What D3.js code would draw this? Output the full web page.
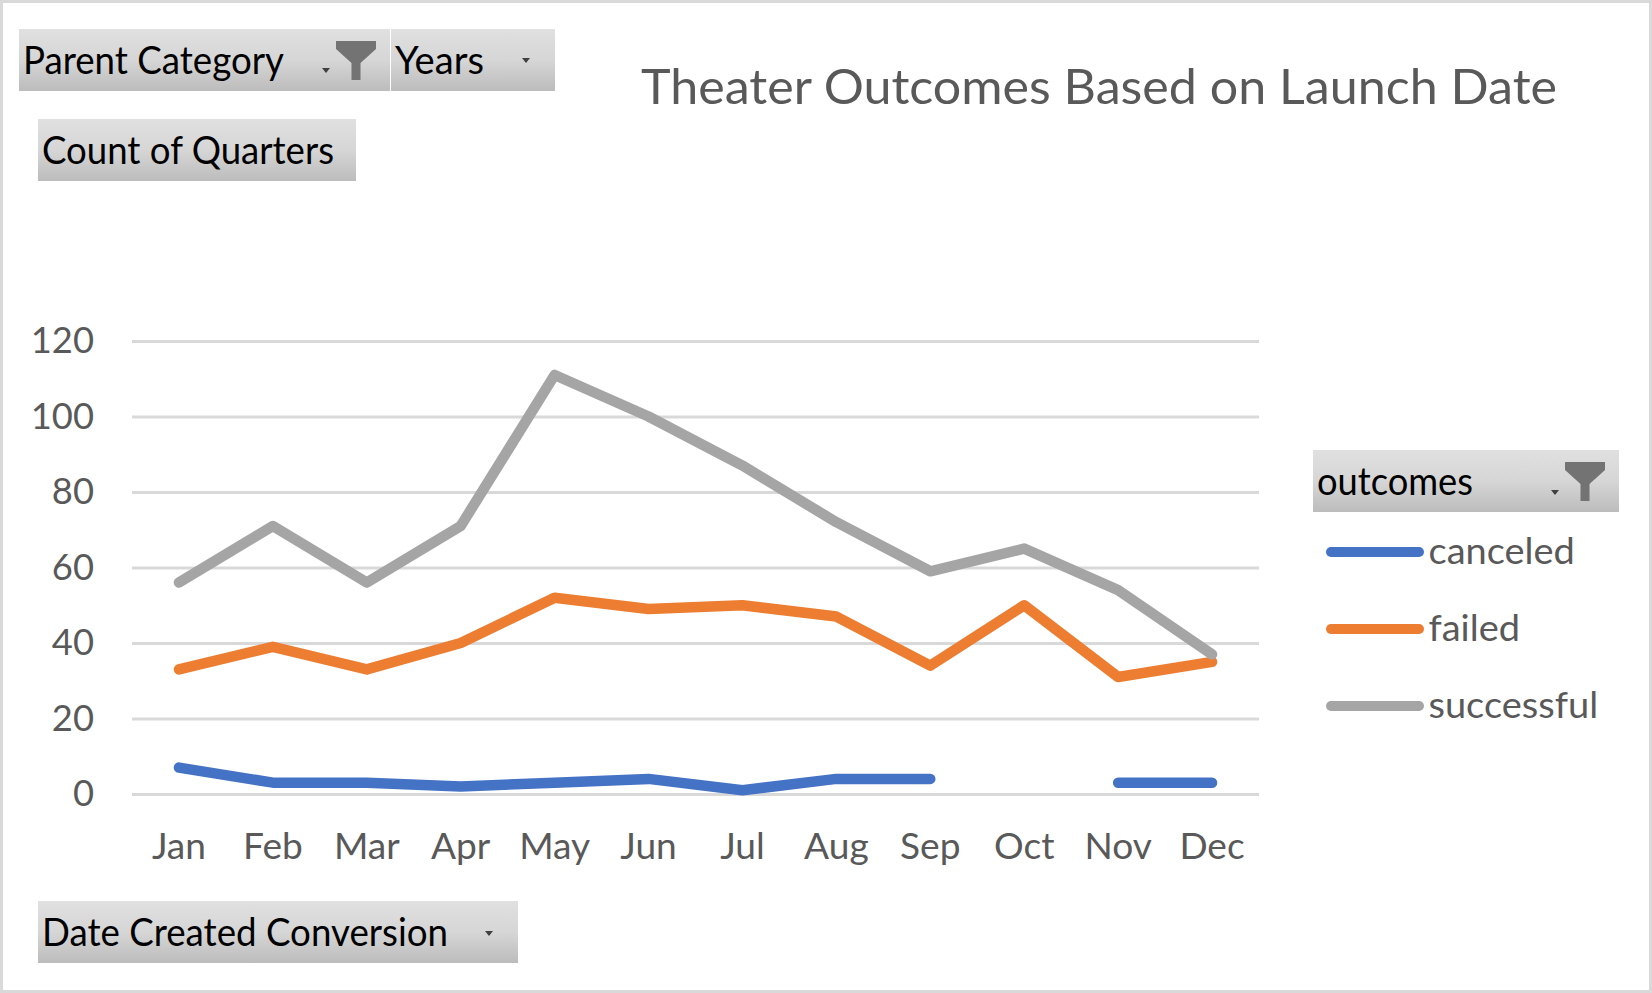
<!DOCTYPE html>
<html><head><meta charset="utf-8">
<script src="https://d3js.org/d3.v7.min.js"></script>
<style>html,body{margin:0;padding:0;background:#fff}svg{display:block}text{font-family:Lato,"Open Sans",sans-serif}</style>
</head><body><svg id="c" width="1652" height="993"></svg>
<script>
const months=["Jan","Feb","Mar","Apr","May","Jun","Jul","Aug","Sep","Oct","Nov","Dec"];
const canceled=[7,3,3,2,3,4,1,4,4,null,3,3];
const failed=[33,39,33,40,52,49,50,47,34,50,31,35];
const successful=[56,71,56,71,111,100,87,72,59,65,54,37];
const yTicks=[0,20,40,60,80,100,120];
const seriesNames=["canceled","failed","successful"];
const seriesColors=["#4472C4","#ED7D31","#A5A5A5"];
const seriesValues=[canceled,failed,successful];

const svg=d3.select("#c");
const defs=svg.append("defs");
const grad=defs.append("linearGradient").attr("id","btn").attr("x1",0).attr("x2",0).attr("y1",0).attr("y2",1);
grad.append("stop").attr("offset","0%").attr("stop-color","#e0e0e0");
grad.append("stop").attr("offset","50%").attr("stop-color","#d6d6d6");
grad.append("stop").attr("offset","100%").attr("stop-color","#bcbcbc");
defs.append("filter").attr("id","soft").append("feGaussianBlur").attr("stdDeviation",0.7);

function stretch(sel,f){
  sel.each(function(){
    const n=this.getComputedTextLength();
    d3.select(this).attr("textLength",n*f).attr("lengthAdjust","spacingAndGlyphs");
  });
}

svg.append("rect").attr("x",1.5).attr("y",1.5).attr("width",1649).attr("height",990)
  .attr("fill","#fff").attr("stroke","#d9d9d9").attr("stroke-width",3);

const x=d3.scaleBand().domain(months).range([132,1259]);
const y=d3.scaleLinear().domain([0,120]).range([794,341]);

const yAxis=svg.append("g").attr("transform","translate(132,0)")
  .call(d3.axisLeft(y).tickValues(yTicks).tickSize(-1127).tickPadding(38));
yAxis.select(".domain").remove();
yAxis.selectAll("line").attr("stroke","#d9d9d9").attr("stroke-width",2.8);
yAxis.selectAll("text").attr("fill","#595959").style("font-size","36px").call(stretch,1.01);

const xAxis=svg.append("g").attr("transform","translate(0,794)")
  .call(d3.axisBottom(x).tickSize(0).tickPadding(39.5));
xAxis.select(".domain").remove();
xAxis.selectAll("text").attr("fill","#595959").style("font-size","36px").call(stretch,1.03);

const line=d3.line().defined(d=>d!=null).x((d,i)=>x(months[i])+x.bandwidth()/2).y(d=>y(d));
seriesValues.forEach((vals,i)=>{
  svg.append("path").attr("d",line(vals)).attr("fill","none").attr("stroke",seriesColors[i])
    .attr("stroke-width",10.5).attr("stroke-linecap","round").attr("stroke-linejoin","round");
});

svg.append("text").attr("x",641).attr("y",104).attr("fill","#595959")
  .attr("textLength",916).attr("lengthAdjust","spacingAndGlyphs")
  .style("font-size","49px").text("Theater Outcomes Based on Launch Date");

function funnel(cx,top){
  svg.append("path").attr("fill","#737373").attr("filter","url(#soft)")
   .attr("d",`M${cx-20},${top} H${cx+20} V${top+8} L${cx+4.5},${top+22} V${top+39} H${cx-4.5} V${top+22} L${cx-20},${top+8} Z`);
}
function arrow(cx,cy){
  svg.append("path").attr("fill","#404040").attr("d",`M${cx-4},${cy-2} H${cx+4} L${cx},${cy+3} Z`);
}
function button(b){
  svg.append("rect").attr("x",b.x).attr("y",b.y).attr("width",b.w).attr("height",b.h).attr("fill","url(#btn)");
  svg.append("text").attr("x",b.x+b.tx).attr("y",b.y+45).attr("fill","#000")
    .attr("textLength",b.tl).attr("lengthAdjust","spacingAndGlyphs")
    .style("font-size","38px").text(b.label);
  if(b.ax) arrow(b.ax,b.ay);
  if(b.fx) funnel(b.fx,b.fy);
}
[
 {x:19,y:29,w:371,h:62,label:"Parent Category",tx:4,tl:261,ax:326,ay:70,fx:356,fy:41},
 {x:391,y:29,w:164,h:62,label:"Years",tx:4,tl:89,ax:526,ay:60},
 {x:38,y:119,w:318,h:62,label:"Count of Quarters",tx:4,tl:292},
 {x:38,y:901,w:480,h:62,label:"Date Created Conversion",tx:4,tl:406,ax:489,ay:933},
 {x:1313,y:450,w:306,h:62,label:"outcomes",tx:4,tl:156,ax:1555,ay:492,fx:1585,fy:462}
].forEach(button);

const legY=[552,629,706];
seriesNames.forEach((n,i)=>{
  svg.append("line").attr("x1",1331).attr("x2",1419).attr("y1",legY[i]).attr("y2",legY[i])
    .attr("stroke",seriesColors[i]).attr("stroke-width",10).attr("stroke-linecap","round");
  svg.append("text").attr("x",1428.5).attr("y",legY[i]+12).attr("fill","#595959")
    .style("font-size","36px").text(n).call(stretch,1.055);
});
</script></body></html>
